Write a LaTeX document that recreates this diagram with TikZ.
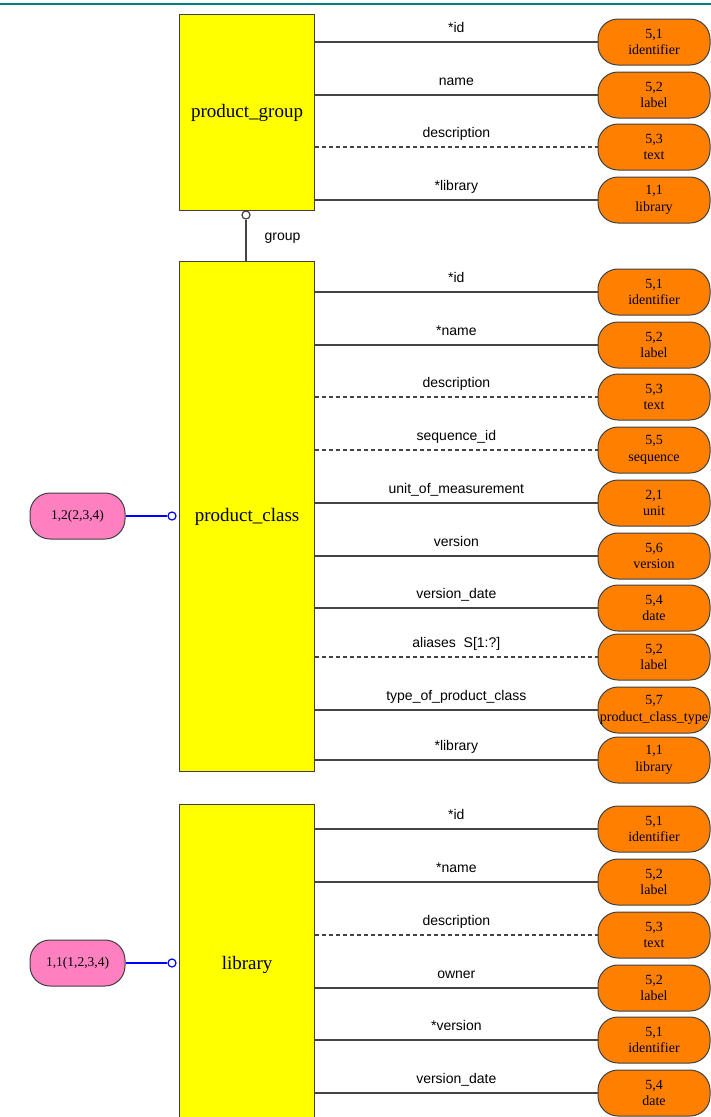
\documentclass[tikz,border=0pt]{standalone}
\usepackage{fontspec}
\setmainfont{Liberation Serif}
\setsansfont{Liberation Sans}
\definecolor{orangeA}{HTML}{FF8000}
\definecolor{pinkA}{HTML}{FF80C0}
\definecolor{yellowA}{HTML}{FFFF00}
\definecolor{boxc}{HTML}{404040}
\definecolor{tealA}{HTML}{007F7F}
\definecolor{lineA}{HTML}{444444}
\newcommand\attrrow[7]{%
  \node[dom] (#2) at (654,#3) {#5\\#6};
  \draw[#7] (#1.east |- #2.west) -- node[lab]{#4} (#2.west);
}
\begin{document}
\begin{tikzpicture}[x=1pt,y=-1pt,
  entity/.style={draw=boxc, fill=yellowA, line width=1.2pt, inner sep=0pt,
    minimum width=135pt, anchor=north west, font=\fontsize{19}{21}\selectfont},
  dom/.style={draw=boxc, fill=orangeA, line width=1pt, rounded corners=20pt,
    minimum width=112pt, minimum height=46pt, inner sep=0pt, align=center,
    font=\fontsize{14}{16.5}\selectfont},
  pinkbox/.style={draw=boxc, fill=pinkA, line width=1pt, rounded corners=20pt,
    minimum width=95pt, minimum height=46pt, inner sep=0pt,
    font=\fontsize{13.5}{16}\selectfont},
  lab/.style={anchor=base, yshift=10pt, inner sep=0pt,
    font=\sffamily\fontsize{14}{16}\selectfont},
  solidA/.style={draw=lineA, line width=1.3pt},
  dashA/.style={draw=lineA, line width=1.3pt, dash pattern=on 4pt off 3pt},
  ring/.style={circle, draw=#1, fill=white, line width=1.2pt, minimum size=8pt, inner sep=0pt},
  blueline/.style={draw=blue, line width=2pt}
]
\useasboundingbox (0,0) rectangle (711,1117);
\draw[tealA, line width=2.5pt] (0,4) -- (711,4);

% entities
\node[entity, minimum height=196pt] (pg) at (179,14) {product\_group};
\node[entity, minimum height=510pt] (pc) at (179,261) {product\_class};
\node[entity, minimum height=320pt] (lib) at (179,804) {library};

% product_group attributes
\attrrow{pg}{pga}{42}{*id}{5,1}{identifier}{solidA}
\attrrow{pg}{pgb}{95}{name}{5,2}{label}{solidA}
\attrrow{pg}{pgc}{147}{description}{5,3}{text}{dashA}
\attrrow{pg}{pgd}{200}{*library}{1,1}{library}{solidA}

% group relation
\node[ring=boxc] (gc) at (246,215) {};
\draw[solidA] (gc.south) -- (gc.south |- pc.north)
  node[pos=0.45, right=18pt, inner sep=0pt, font=\sffamily\fontsize{14}{16}\selectfont] (glab) {group};

% product_class attributes
\attrrow{pc}{pca}{292}{*id}{5,1}{identifier}{solidA}
\attrrow{pc}{pcb}{345}{*name}{5,2}{label}{solidA}
\attrrow{pc}{pcc}{397}{description}{5,3}{text}{dashA}
\attrrow{pc}{pcd}{450}{sequence\_id}{5,5}{sequence}{dashA}
\attrrow{pc}{pce}{503}{unit\_of\_measurement}{2,1}{unit}{solidA}
\attrrow{pc}{pcf}{556}{version}{5,6}{version}{solidA}
\attrrow{pc}{pcg}{608}{version\_date}{5,4}{date}{solidA}
\attrrow{pc}{pch}{657}{aliases\ \ S[1:?]}{5,2}{label}{dashA}
\attrrow{pc}{pci}{710}{type\_of\_product\_class}{5,7}{product\_class\_type}{solidA}
\attrrow{pc}{pcj}{760}{*library}{1,1}{library}{solidA}

% library attributes
\attrrow{lib}{la}{829}{*id}{5,1}{identifier}{solidA}
\attrrow{lib}{lb}{882}{*name}{5,2}{label}{solidA}
\attrrow{lib}{lc}{935}{description}{5,3}{text}{dashA}
\attrrow{lib}{ld}{988}{owner}{5,2}{label}{solidA}
\attrrow{lib}{le}{1040}{*version}{5,1}{identifier}{solidA}
\attrrow{lib}{lf}{1093}{version\_date}{5,4}{date}{solidA}

% keys
\node[pinkbox] (k1) at (77.5,516) {1,2(2,3,4)};
\node[ring=blue] (c1) at (172,516) {};
\draw[blueline] (k1.east) -- (c1.west);
\node[pinkbox] (k2) at (77.5,963) {1,1(1,2,3,4)};
\node[ring=blue] (c2) at (172,963) {};
\draw[blueline] (k2.east) -- (c2.west);
\end{tikzpicture}
\end{document}
